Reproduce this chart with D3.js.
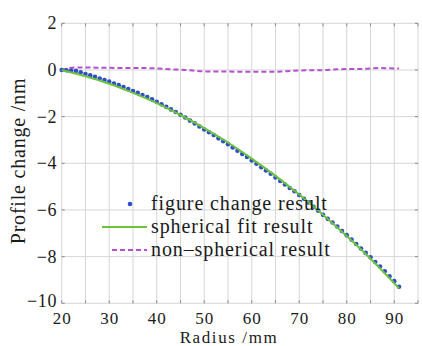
<!DOCTYPE html>
<html>
<head>
<meta charset="utf-8">
<script src="https://cdn.jsdelivr.net/npm/d3@7"></script>
<style>
  body { margin: 0; background: #fff; }
</style>
</head>
<body>
<div id="chart"></div>
<script>
const chartWidth = 422
const chartHeight = 346

// axis ticks
const xTicks = [20, 30, 40, 50, 60, 70, 80, 90]
const yTicks = [2, 0, -2, -4, -6, -8, -10]

// figure change result (blue dots)
const radius = [20, 21, 22, 23, 24, 25, 26, 27, 28, 29, 30, 31, 32, 33, 34, 35, 36, 37, 38, 39,
  40, 41, 42, 43, 44, 45, 46, 47, 48, 49, 50, 51, 52, 53, 54, 55, 56, 57, 58, 59,
  60, 61, 62, 63, 64, 65, 66, 67, 68, 69, 70, 71, 72, 73, 74, 75, 76, 77, 78, 79,
  80, 81, 82, 83, 84, 85, 86, 87, 88, 89, 90, 91]
const figureChange = [0.00, -0.01, -0.02, -0.04, -0.10, -0.17, -0.23, -0.29, -0.37, -0.43,
  -0.50, -0.58, -0.65, -0.73, -0.82, -0.90, -0.98, -1.07, -1.16, -1.26,
  -1.36, -1.47, -1.58, -1.69, -1.80, -1.92, -2.04, -2.17, -2.29, -2.42,
  -2.55, -2.67, -2.79, -2.93, -3.05, -3.18, -3.32, -3.46, -3.60, -3.73,
  -3.88, -4.02, -4.17, -4.31, -4.45, -4.61, -4.76, -4.91, -5.06, -5.20,
  -5.36, -5.52, -5.68, -5.86, -6.03, -6.21, -6.38, -6.54, -6.71, -6.90,
  -7.08, -7.27, -7.46, -7.65, -7.84, -8.03, -8.23, -8.42, -8.63, -8.84,
  -9.05, -9.29]

// spherical fit result (green line)
const fitRadius = [20, 25, 30, 35, 40, 45, 50, 55, 60, 65, 70, 75, 80, 85, 91]
const sphericalFit = [0.00, -0.27, -0.59, -0.98, -1.42, -1.93, -2.49, -3.11, -3.80, -4.54, -5.34, -6.20, -7.12, -8.09, -9.35]

// non-spherical result (purple dashed)
const residRadius = [20, 23, 30, 38, 43, 46, 50, 55, 60, 66, 70, 75, 78, 84, 87, 91]
const nonSpherical = [0.00, 0.11, 0.09, 0.08, 0.03, 0.00, -0.06, -0.07, -0.08, -0.07, -0.02, -0.01, 0.03, 0.05, 0.08, 0.06]

const legendLabels = ["figure change result", "spherical fit result", "non\u2013spherical result"]

const blue = "#2f4fc6"
const green = "#6cc23c"
const purple = "#b450cf"
const serif = "'Liberation Serif', 'DejaVu Serif', 'Times New Roman', Times, serif"

const svg = d3.select("#chart").append("svg")
  .attr("width", chartWidth)
  .attr("height", chartHeight)
  .attr("font-family", serif)

const x = d3.scaleLinear().domain([20, 95]).range([61.7, 418])
const y = d3.scaleLinear().domain([-10, 2]).range([303.3, 23.3])

// GRID
const grid = svg.append("g").attr("stroke", "#d6d6d6").attr("stroke-width", 1)
d3.range(20, 96, 5).forEach(v => {
  grid.append("line").attr("x1", x(v)).attr("x2", x(v)).attr("y1", y(2)).attr("y2", y(-10))
})
yTicks.forEach(v => {
  grid.append("line").attr("x1", x(20)).attr("x2", x(95)).attr("y1", y(v)).attr("y2", y(v))
})

// small tick marks on the frame
const marks = svg.append("g").attr("stroke", "#8a8a8a").attr("stroke-width", 1)
d3.range(20, 96, 5).forEach(v => {
  marks.append("line").attr("x1", x(v)).attr("x2", x(v)).attr("y1", y(2)).attr("y2", y(2) + 3)
  marks.append("line").attr("x1", x(v)).attr("x2", x(v)).attr("y1", y(-10)).attr("y2", y(-10) - 3)
})
yTicks.forEach(v => {
  marks.append("line").attr("x1", x(20)).attr("x2", x(20) + 3).attr("y1", y(v)).attr("y2", y(v))
  marks.append("line").attr("x1", x(95)).attr("x2", x(95) - 3).attr("y1", y(v)).attr("y2", y(v))
})

// AXES LABELS
svg.append("g").selectAll("text").data(xTicks).join("text")
  .attr("x", d => x(d) + 0.5)
  .attr("y", 324)
  .attr("text-anchor", "middle")
  .attr("font-size", 17)
  .attr("letter-spacing", 1)
  .attr("fill", "#1a1a1a")
  .text(d => d)

svg.append("g").selectAll("text").data(yTicks).join("text")
  .attr("x", 57)
  .attr("y", d => y(d) + 6 - (d === -10 ? 2 : 0))
  .attr("text-anchor", "end")
  .attr("font-size", 18)
  .attr("letter-spacing", 0.6)
  .attr("fill", "#1a1a1a")
  .text(d => d < 0 ? "\u2212" + Math.abs(d) : d)

svg.append("text")
  .attr("text-anchor", "middle")
  .attr("transform", "translate(25,161) rotate(-90)")
  .attr("font-size", 20)
  .attr("letter-spacing", 0.8)
  .attr("fill", "#1a1a1a")
  .text("Profile change /nm")

svg.append("text")
  .attr("text-anchor", "middle")
  .attr("x", 229)
  .attr("y", 343)
  .attr("font-size", 17)
  .attr("letter-spacing", 1.6)
  .attr("fill", "#1a1a1a")
  .text("Radius /mm")

// DATA
const line = d3.line().x(d => x(d[0])).y(d => y(d[1])).curve(d3.curveMonotoneX)

svg.append("path")
  .datum(residRadius.map((r, i) => [r, nonSpherical[i]]))
  .attr("d", line)
  .attr("fill", "none")
  .attr("stroke", purple)
  .attr("stroke-width", 2)
  .attr("stroke-dasharray", "5,3")

svg.append("g").selectAll("circle").data(radius).join("circle")
  .attr("cx", d => x(d))
  .attr("cy", (d, i) => y(figureChange[i]))
  .attr("r", 2.3)
  .attr("fill", blue)

svg.append("path")
  .datum(fitRadius.map((r, i) => [r, sphericalFit[i]]))
  .attr("d", line)
  .attr("fill", "none")
  .attr("stroke", green)
  .attr("stroke-width", 2)

// LEGEND
const legend = svg.append("g")
legend.append("circle").attr("cx", 130).attr("cy", 204).attr("r", 2.3).attr("fill", blue)
legend.append("line").attr("x1", 102).attr("x2", 147).attr("y1", 227).attr("y2", 227)
  .attr("stroke", green).attr("stroke-width", 2)
legend.append("line").attr("x1", 112).attr("x2", 147).attr("y1", 250).attr("y2", 250)
  .attr("stroke", purple).attr("stroke-width", 2).attr("stroke-dasharray", "5,3")
legend.selectAll("text").data(legendLabels).join("text")
  .attr("x", 151)
  .attr("y", (d, i) => 210 + i * 23)
  .attr("font-size", 20)
  .attr("letter-spacing", 0.9)
  .attr("fill", "#1a1a1a")
  .text(d => d)
</script>
</body>
</html>
